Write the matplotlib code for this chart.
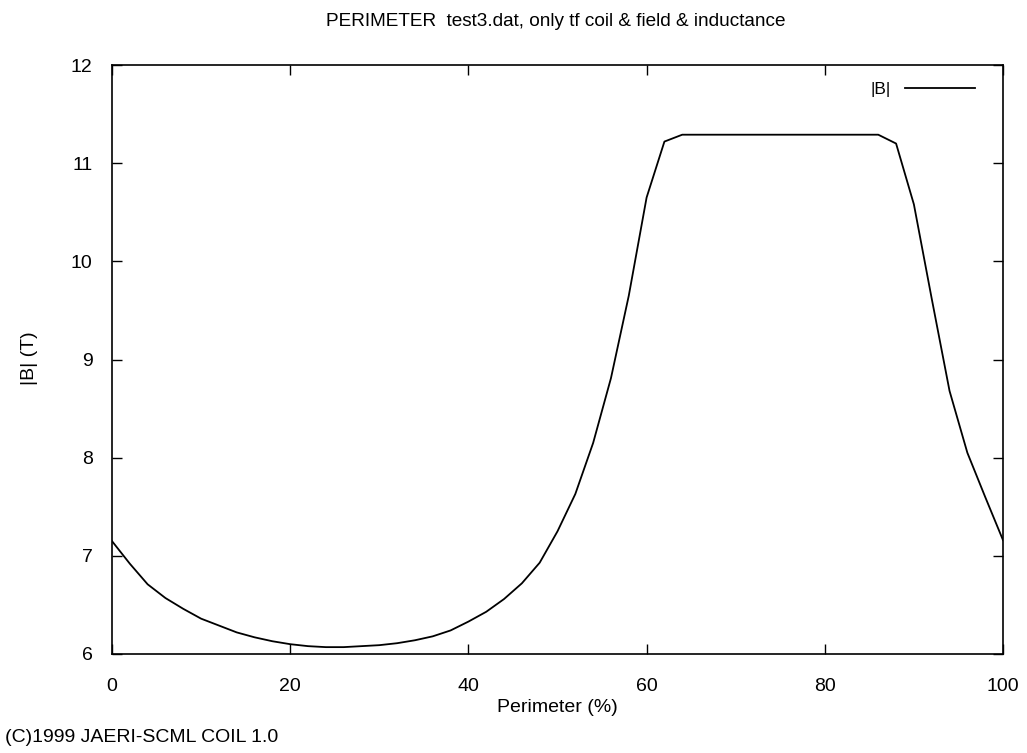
import matplotlib
matplotlib.use("Agg")
from matplotlib import pyplot as plt

# perimeter position (%) and field magnitude (T)
perimeter = [0, 2, 4, 6, 8, 10, 12, 14, 16, 18, 20, 22, 24, 26, 28, 30,
             32, 34, 36, 38, 40, 42, 44, 46, 48, 50, 52, 54, 56, 58, 60,
             62, 64, 66, 68, 70, 72, 74, 76, 78, 80, 82, 84, 86, 88, 90,
             92, 94, 96, 98, 100]
field = [7.15, 6.92, 6.71, 6.57, 6.46, 6.36, 6.29, 6.22, 6.17, 6.13, 6.10,
         6.08, 6.07, 6.07, 6.08, 6.09, 6.11, 6.14, 6.18, 6.24, 6.33, 6.43,
         6.56, 6.72, 6.93, 7.25, 7.63, 8.15, 8.81, 9.65, 10.65, 11.22,
         11.29, 11.29, 11.29, 11.29, 11.29, 11.29, 11.29, 11.29, 11.29,
         11.29, 11.29, 11.29, 11.20, 10.58, 9.62, 8.68, 8.05, 7.60, 7.16]

x_ticks = [0, 20, 40, 60, 80, 100]
y_ticks = [6, 7, 8, 9, 10, 11, 12]

plt.rcParams["font.family"] = ["Liberation Sans", "DejaVu Sans"]

fig = plt.figure(figsize=(10.27, 7.53), dpi=100)
ax = fig.add_axes([112 / 1027, 1 - 654 / 753, 891 / 1027, 589 / 753])

ax.plot(perimeter, field, color="black", linewidth=1.3, label="|B|")

ax.set_xlim(0, 100)
ax.set_ylim(6, 12)
ax.set_xticks(x_ticks)
ax.set_yticks(y_ticks)
ax.tick_params(direction="in", length=7, width=1, top=True, right=True,
               labelsize=14)
ax.tick_params(axis="x", pad=17.5)
ax.tick_params(axis="y", pad=14)
for spine in ax.spines.values():
    spine.set_linewidth(1.2)

fig.text(556 / 1027, 1 - 21 / 753,
         "PERIMETER  test3.dat, only tf coil & field & inductance",
         ha="center", va="center", fontsize=13.7)
fig.text(557 / 1027, 1 - 708 / 753, "Perimeter (%)",
         ha="center", va="center", fontsize=14)
fig.text(29 / 1027, 1 - 358 / 753, "|B| (T)", rotation=90,
         ha="center", va="center", fontsize=14)
fig.text(5 / 1027, 1 - 737 / 753, "(C)1999 JAERI-SCML COIL 1.0",
         ha="left", va="center", fontsize=14)

ax.legend(loc="upper right", bbox_to_anchor=(0.976, 0.983),
          borderaxespad=0, frameon=False, fontsize=12.5, markerfirst=False,
          handlelength=4.0, handletextpad=0.85)

fig.savefig("out.png", dpi=100)
